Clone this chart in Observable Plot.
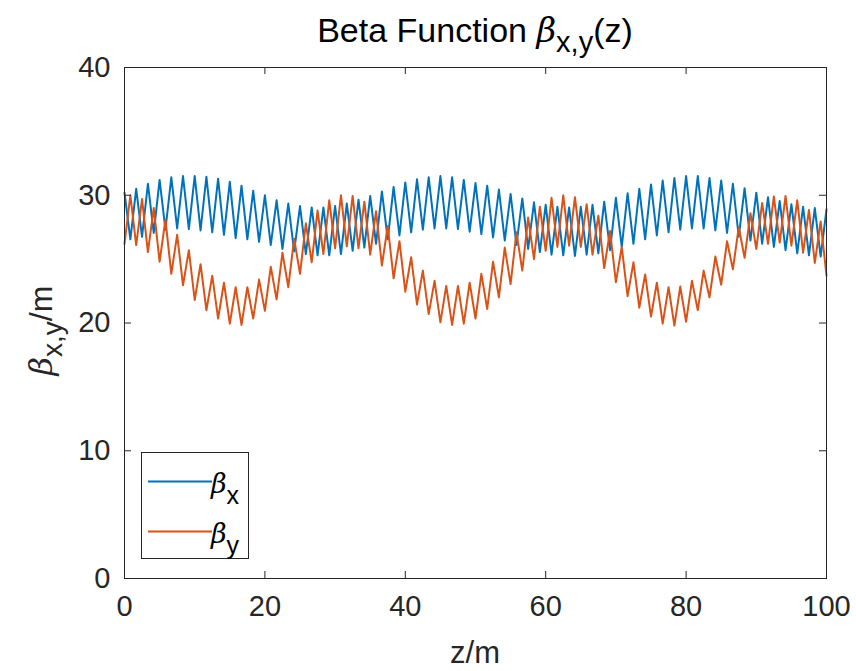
<!DOCTYPE html>
<html><head><meta charset="utf-8">
<script src="https://cdn.jsdelivr.net/npm/d3@7"></script>
<script src="https://cdn.jsdelivr.net/npm/@observablehq/plot@0.6"></script>
<style>
body{margin:0;background:#fff;font-family:"Liberation Sans",Arial,sans-serif;}
#title{position:relative;width:856px;height:50px;z-index:2;}
#title svg{overflow:visible;display:block;}
#chart{position:relative;z-index:1;}
</style></head>
<body>
<div id="title"><svg width="856" height="50"><text x="475" y="42" text-anchor="middle" font-size="34" font-family="'Liberation Sans',Arial,sans-serif" fill="#000">Beta Function <tspan font-style="italic" font-family="'DejaVu Serif',serif">β</tspan><tspan dy="10" font-size="29">x,y</tspan><tspan dy="-10">(z)</tspan></text></svg></div>
<div id="chart"></div>
<script>
// Tick values
const xTicks = [0, 20, 40, 60, 80, 100];
const yTicks = [0, 10, 20, 30, 40];
// sampling: 121 points, z = 0 ... 100
const zStep = 100 / 120;
// beta_x: values at even samples (maxima) and odd samples (minima)
const betaXPeak = [30.2,30.5,30.9,31.2,31.4,31.5,31.5,31.45,31.3,31.05,
  30.75,30.35,30.0,29.6,29.35,29.15,29.05,29.05,29.15,29.35,
  29.65,29.95,30.3,30.65,31.0,31.25,31.4,31.5,31.4,31.2,
  30.95,30.75,30.45,30.1,29.75,29.45,29.25,29.1,29.05,29.1,
  29.25,29.5,29.8,30.15,30.5,30.85,31.15,31.35,31.5,31.5,
  31.35,31.15,30.9,30.55,30.2,29.85,29.55,29.3,29.1,29.0,28.9];
const betaXTrough = [26.55,26.75,27.05,27.3,27.4,27.35,27.25,27.1,26.9,26.65,
  26.55,26.35,26.1,25.8,25.6,25.4,25.3,25.3,25.4,25.65,
  25.9,26.2,26.55,26.85,27.1,27.3,27.4,27.4,27.35,27.15,
  26.95,26.7,26.45,26.1,25.8,25.55,25.35,25.3,25.25,25.35,
  25.45,25.7,25.95,26.2,26.55,26.85,27.1,27.3,27.4,27.4,
  27.25,27.05,26.75,26.45,26.2,25.95,25.7,25.45,25.3,25.2];
// beta_y: values at even samples (minima) and odd samples (maxima)
const betaYTrough = [26.2,26.1,25.55,24.8,23.85,22.95,21.8,21.0,20.35,19.95,
  19.85,20.35,20.95,21.85,22.8,23.85,24.75,25.4,25.85,26.0,
  25.85,25.35,24.5,23.5,22.45,21.45,20.7,20.05,19.85,19.95,
  20.35,21.1,22.0,23.05,24.1,25.0,25.65,25.95,26.05,25.95,
  25.35,24.3,23.2,22.1,21.2,20.5,19.95,19.8,20.1,21.0,
  22.0,23.0,24.2,25.1,25.8,26.2,26.3,26.05,25.5,24.7,23.7];
const betaYPeak = [30.0,29.7,29.0,28.1,26.9,25.7,24.6,23.7,23.15,22.8,
  22.8,23.4,24.4,25.5,26.6,27.8,28.8,29.6,30.0,29.95,
  29.5,28.75,27.6,26.4,25.15,24.1,23.3,22.9,22.9,23.15,
  23.85,24.8,25.9,27.1,28.25,29.1,29.8,30.0,29.85,29.3,
  28.4,27.2,25.95,24.75,23.8,23.15,22.8,22.85,23.3,24.1,
  25.2,26.4,27.5,28.6,29.4,29.9,29.95,29.6,28.85,27.95];

const nSamples = betaXPeak.length + betaXTrough.length;
const zGrid = d3.range(nSamples).map(k => k * zStep);
function interleave(even, odd) {
  return zGrid.map((z, k) => ({z, v: k % 2 === 0 ? even[k / 2] : odd[(k - 1) / 2]}));
}
const bx = interleave(betaXPeak, betaXTrough);
const by = interleave(betaYTrough, betaYPeak);

const W = 856, H = 621, mL = 124, mR = 30, mT = 17, mB = 93;
const innerW = W - mL - mR, innerH = H - mT - mB, tl = 7;
const axisColor = "#262626";
const blue = "#0072BD", red = "#D95319";
const font = "'Liberation Sans', Arial, sans-serif";

const svg = Plot.plot({
  width: W, height: H,
  marginLeft: mL, marginRight: mR, marginTop: mT, marginBottom: mB,
  style: {background: "transparent", overflow: "visible", fontFamily: font, fontSize: "29px", color: axisColor},
  x: {domain: [0, 100]},
  y: {domain: [0, 40]},
  marks: [
    Plot.line(bx, {x: "z", y: "v", stroke: blue, strokeWidth: 2}),
    Plot.line(by, {x: "z", y: "v", stroke: red, strokeWidth: 2}),
    Plot.frame({stroke: axisColor, strokeWidth: 1}),
    Plot.tickX(xTicks, {x: d => d, insetTop: innerH - tl, stroke: axisColor}),
    Plot.tickX(xTicks, {x: d => d, insetBottom: innerH - tl, stroke: axisColor}),
    Plot.tickY(yTicks, {y: d => d, insetRight: innerW - tl, stroke: axisColor}),
    Plot.tickY(yTicks, {y: d => d, insetLeft: innerW - tl, stroke: axisColor}),
    Plot.axisX({ticks: xTicks, tickSize: 0, tickPadding: 17, fontSize: 29, label: null, fill: axisColor}),
    Plot.axisY({ticks: yTicks, tickSize: 0, tickPadding: 14, fontSize: 29, label: null, fill: axisColor})
  ]
});

const s = d3.select(svg);
// x label
s.append("text").attr("x", mL + innerW / 2).attr("y", 613)
  .attr("text-anchor", "middle").attr("font-size", 31).attr("font-family", font)
  .attr("fill", axisColor).text("z/m");
// y label
const yl = s.append("text")
  .attr("transform", `translate(52,${mT + innerH / 2 + 8}) rotate(-90)`)
  .attr("text-anchor", "middle").attr("font-size", 32).attr("font-family", font).attr("fill", axisColor);
yl.append("tspan").attr("font-style", "italic").attr("font-family", "'DejaVu Serif',serif").text("β");
yl.append("tspan").attr("dy", 10).attr("font-size", 28).text("x,y");
yl.append("tspan").attr("dy", -10).text("/m");

// legend
const lg = s.append("g");
lg.append("rect").attr("x", 141.5).attr("y", 402.5).attr("width", 107).attr("height", 106)
  .attr("fill", "#fff").attr("stroke", axisColor).attr("stroke-width", 1);
const items = [{c: blue, sub: "x"}, {c: red, sub: "y"}];
items.forEach((it, i) => {
  const yy = 431.5 + i * 50;
  lg.append("line").attr("x1", 148).attr("x2", 212).attr("y1", yy).attr("y2", yy)
    .attr("stroke", it.c).attr("stroke-width", 2);
  const t = lg.append("text").attr("x", 225).attr("y", yy + 11).attr("font-size", 27)
    .attr("font-family", font).attr("fill", "#000");
  t.append("tspan").attr("font-style", "italic").attr("font-family", "'DejaVu Serif',serif").text("β");
  t.append("tspan").attr("dy", 11).attr("font-size", 25).text(it.sub);
});

document.getElementById("chart").appendChild(svg);
</script>
</body></html>
